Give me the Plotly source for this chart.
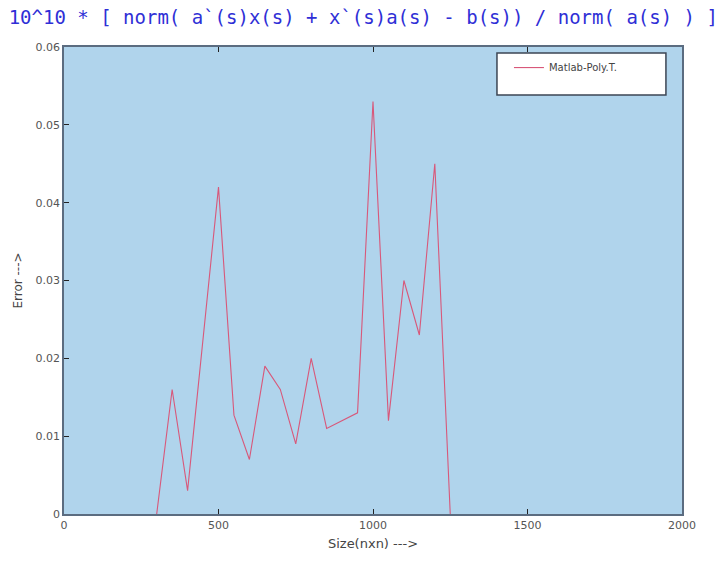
import plotly.graph_objects as go

# Matrix size (n for an n x n system) and scaled relative residual error
sizes = [300, 350, 400, 500, 550, 600, 650, 700, 750, 800, 850, 900, 950,
         1000, 1050, 1100, 1150, 1200, 1250]
errors = [0.0, 0.016, 0.003, 0.042, 0.0127, 0.007, 0.019, 0.016, 0.009, 0.020,
          0.011, 0.012, 0.013, 0.053, 0.012, 0.030, 0.023, 0.045, 0.0]

x_ticks = [0, 500, 1000, 1500, 2000]
y_ticks = [0, 0.01, 0.02, 0.03, 0.04, 0.05, 0.06]
y_tick_text = ["0", "0.01", "0.02", "0.03", "0.04", "0.05", "0.06"]

title_text = "10^10 * [ norm( a`(s)x(s) + x`(s)a(s) - b(s)) / norm( a(s) ) ]"

frame = "#5b6c80"

fig = go.Figure()
fig.add_trace(go.Scatter(
    x=sizes, y=errors, mode="lines", name="Matlab-Poly.T.",
    line=dict(color="#d8587a", width=1.1),
))

# legend frame drawn as a box in paper coordinates
fig.add_shape(type="rect", xref="paper", yref="paper",
              x0=0.7006, x1=0.974, y0=0.897, y1=0.987,
              fillcolor="white", line=dict(color="#3c4654", width=1.5),
              layer="above")

fig.update_layout(
    width=723, height=563,
    margin=dict(l=64, r=41, t=47, b=49),
    paper_bgcolor="white",
    plot_bgcolor="#b0d4ec",
    title=dict(text=title_text, x=0.012, xanchor="left", y=0.981, yanchor="top",
               font=dict(family="DejaVu Sans Mono", size=19, color="#2f2fd6")),
    font=dict(family="DejaVu Sans", size=11, color="#333333"),
    showlegend=True,
    legend=dict(x=0.72, y=0.987, xanchor="left", yanchor="top",
                bgcolor="rgba(0,0,0,0)", borderwidth=0,
                font=dict(size=10, color="#444444"),
                itemwidth=30, tracegroupgap=0),
    xaxis=dict(range=[0, 2000], tickvals=x_ticks, ticktext=[str(v) for v in x_ticks],
               showgrid=False, zeroline=False, showline=True, linecolor=frame,
               linewidth=1.5, mirror="ticks", ticks="inside", ticklen=5,
               tickcolor="#222222",
               title=dict(text="Size(nxn) --->", font=dict(size=13, color="#444444"),
                          standoff=8),
               tickfont=dict(size=11, color="#555555")),
    yaxis=dict(range=[0, 0.06], tickvals=y_ticks, ticktext=y_tick_text,
               showgrid=False, zeroline=False, showline=True, linecolor=frame,
               linewidth=1.5, mirror=True, ticks="inside", ticklen=5,
               tickcolor="#222222",
               title=dict(text="Error --->", font=dict(size=12, color="#444444"),
                          standoff=10),
               tickfont=dict(size=11, color="#555555")),
)

fig.write_html("out.html")
